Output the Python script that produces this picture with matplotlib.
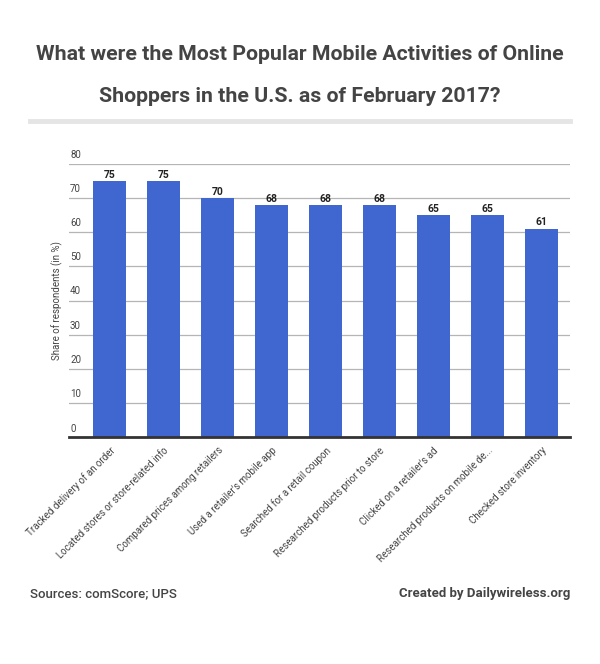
import matplotlib
matplotlib.use("Agg")
import matplotlib.pyplot as plt
from matplotlib.lines import Line2D

categories = [
    "Tracked delivery of an order",
    "Located stores or store-related info",
    "Compared prices among retailers",
    "Used a retailer's mobile app",
    "Searched for a retail coupon",
    "Researched products prior to store",
    "Clicked on a retailer's ad",
    "Researched products on mobile de...",
    "Checked store inventory",
]
values = [75, 75, 70, 68, 68, 68, 65, 65, 61]
yticks = [0, 10, 20, 30, 40, 50, 60, 70, 80]

plt.rcParams['font.family'] = ['Roboto', 'DejaVu Sans']

fig = plt.figure(figsize=(6.0, 6.64), dpi=100)
W, H = 600, 664
ax = fig.add_axes([69 / W, 1 - 437 / H, (570 - 69) / W, (437 - 164) / H])

x = list(range(len(categories)))
ax.bar(x, values, width=0.61, color="#4066cf", zorder=3)
ax.set_xlim(-0.75, 8.53)
ax.set_ylim(0, 80)

for yv in yticks[1:]:
    ax.axhline(yv, color="#b5b5b5", lw=0.9, zorder=1)
    ax.text(0.002, yv + 1.2, str(yv), transform=ax.get_yaxis_transform(),
            fontsize=7, color="#444444", ha="left", va="bottom")
ax.text(0.002, 1.0, "0", transform=ax.get_yaxis_transform(),
        fontsize=7, color="#444444", ha="left", va="bottom")

for xi, v in zip(x, values):
    ax.text(xi, v + 0.4, str(v), ha="center", va="bottom", fontsize=7.5,
            fontweight="bold", color="#222222", zorder=4)

ax.set_yticks([])
ax.set_xticks(x)
ax.set_xticklabels(categories, rotation=45, ha="right", rotation_mode="anchor",
                   fontsize=7, color="#444444")
ax.tick_params(axis="x", length=0, pad=6)
for s in ["top", "right", "left"]:
    ax.spines[s].set_visible(False)
ax.spines["bottom"].set_color("#333333")
ax.spines["bottom"].set_linewidth(2)
ax.spines["bottom"].set_zorder(5)

ax.set_ylabel("Share of respondents (in %)", fontsize=7, color="#444444", labelpad=4)

fig.text(0.5, 1 - 55 / H, "What were the Most Popular Mobile Activities of Online",
         ha="center", va="center", fontsize=15.3, fontweight="bold", color="#444444")
fig.text(0.5, 1 - 97 / H, "Shoppers in the U.S. as of February 2017?",
         ha="center", va="center", fontsize=15.3, fontweight="bold", color="#444444")
fig.add_artist(Line2D([30 / W, 570 / W], [1 - 121 / H, 1 - 121 / H],
                      transform=fig.transFigure, color="#e5e5e5", lw=3.5))

fig.text(30 / W, 1 - 594 / H, "Sources: comScore; UPS", ha="left", va="center",
         fontsize=9.5, fontweight="medium", color="#444444")
fig.text(570 / W, 1 - 594 / H, "Created by Dailywireless.org", ha="right", va="center",
         fontsize=9.5, fontweight="bold", color="#444444")

fig.savefig("out.png", dpi=100, facecolor="white")
